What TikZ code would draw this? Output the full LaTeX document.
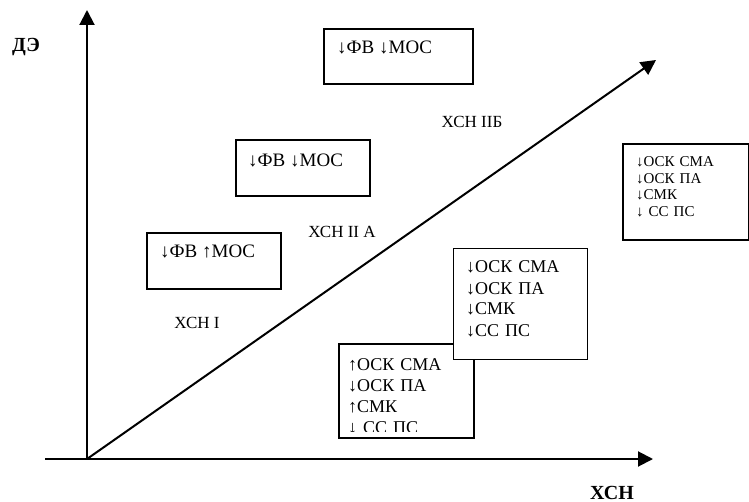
\documentclass[tikz,border=0pt]{standalone}
\usepackage{fontspec}
\setmainfont{Liberation Serif}
\usepackage{tikz}
\usetikzlibrary{arrows.meta}
\usetikzlibrary{positioning}
\tikzstyle{zone}=[rectangle, draw, fill=white, line width=1.6pt, inner sep=0pt, anchor=north west]
\tikzstyle{sign}=[inner sep=0pt, anchor=base west, align=left]
\tikzstyle{stage}=[inner sep=0pt, font=\fontsize{17pt}{19pt}\selectfont]
\tikzstyle{axislabel}=[inner sep=0pt, font=\bfseries\fontsize{20pt}{22pt}\selectfont]

\begin{document}
\begin{tikzpicture}[x=1pt, y=-1pt]

\tikzset{>={Triangle[length=15pt, width=15pt]}}
\tikzset{every node/.style={font=\fontsize{19pt}{21pt}\selectfont}}

\useasboundingbox (0,0) rectangle (749,502);

% axes
\coordinate (O) at (87,459);
\coordinate (ytip) at (87,10);
\coordinate (xtail) at (45,459);
\coordinate (xtip) at (653,459);
\coordinate (dtip) at (656,60);

\draw[->, line width=2pt] (O) -- (ytip); % DE
\draw[->, line width=2pt] (xtail) -- (xtip); % HSN
\draw[->, line width=2pt] (O) -- (dtip); % diagonal

\node[axislabel] (de) at (26,47) {ДЭ};
\node[axislabel, anchor=base] (hsn) at (612,499) {ХСН};

% stages
\node[stage] (st1) at (197,323) {ХСН I};
\node[stage] (st2a) at (342,232) {ХСН II А};
\node[stage] (st2b) at (472,122) {ХСН IIБ};

% upper boxes
\node[zone, minimum width=149pt, minimum height=55pt] (fv1) at (323,28) {};
\node[sign] (fv1t) at (337,54) {↓ФВ ↓МОС};

\node[zone, minimum width=134pt, minimum height=56pt] (fv2) at (235,139) {};
\node[sign] (fv2t) at (248,167) {↓ФВ ↓МОС};

\node[zone, minimum width=134pt, minimum height=56pt] (fv3) at (146,232) {};
\node[sign] (fv3t) at (160,258) {↓ФВ ↑МОС};

% lower boxes
\node[zone, minimum width=135pt, minimum height=94pt] (osk1) at (338,343) {};
\begin{scope}
\clip (338,343) rectangle (473,431);
\node[sign, text width=120pt, font=\fontsize{18pt}{21pt}\selectfont] (osk1t) at (348,370)
  {↑ОСК СМА\\↓ОСК ПА\\↑СМК\\↓ СС ПС};
\end{scope}

\node[zone, line width=1pt, minimum width=134pt, minimum height=111pt] (osk2) at (453,248) {};
\node[sign, text width=120pt, font=\fontsize{18pt}{21pt}\selectfont] (osk2t) at (466,273)
  {↓ОСК СМА\\↓ОСК ПА\\↓СМК\\↓СС ПС};

\node[zone, minimum width=126pt, minimum height=96pt] (osk3) at (622,143) {};
\node[sign, text width=110pt, font=\fontsize{15pt}{16.5pt}\selectfont] (osk3t) at (636,167)
  {↓ОСК СМА\\↓ОСК ПА\\↓СМК\\↓ СС ПС};

\end{tikzpicture}
\end{document}
